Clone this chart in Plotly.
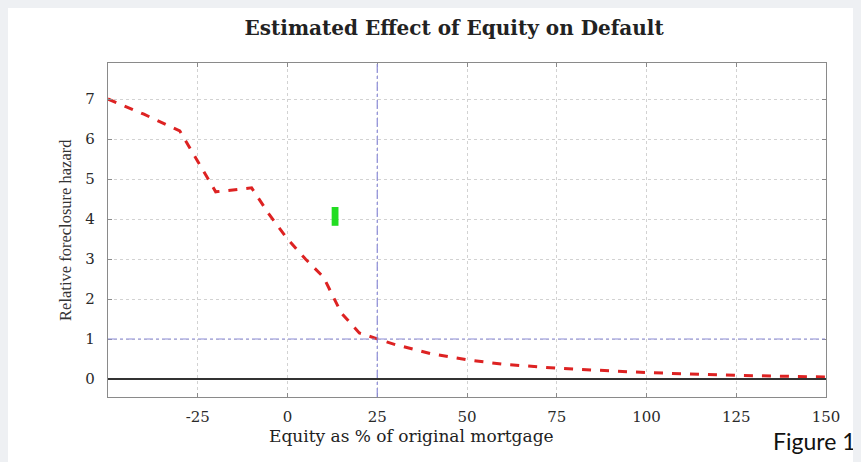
import plotly.graph_objects as go

# ---- data ----
equity_pct = [-50, -40, -30, -20, -10, -5, 0, 5, 10, 15, 20, 25, 30, 40, 50, 60, 75, 100, 125, 150]
relative_hazard = [7.0, 6.62, 6.2, 4.68, 4.78, 4.1, 3.5, 3.0, 2.55, 1.65, 1.15, 1.0, 0.86, 0.63, 0.48, 0.37, 0.27, 0.16, 0.09, 0.05]

x_ticks = [-25, 0, 25, 50, 75, 100, 125, 150]
y_ticks = [0, 1, 2, 3, 4, 5, 6, 7]
x_range = [-50, 150]
y_range = [-0.45, 7.9]

ref_equity = 25      # vertical reference line
ref_hazard = 1       # horizontal reference line
zero_hazard = 0      # baseline
green_mark_x = [12.3, 14.2]
green_mark_y = [3.83, 4.3]

title_text = "Estimated Effect of Equity on Default"
x_title = "Equity as % of original mortgage"
y_title = "Relative foreclosure hazard"
figure_label = "Figure 1"

serif = "DejaVu Serif, Liberation Serif, serif"

fig = go.Figure()
fig.add_trace(go.Scatter(
    x=equity_pct, y=relative_hazard, mode="lines",
    line=dict(color="#dd2222", width=3, dash="dash"),
    showlegend=False, hoverinfo="skip",
))

ref_color = "#8c8cd8"
fig.add_shape(type="line", xref="x", yref="paper", x0=ref_equity, x1=ref_equity, y0=0, y1=1,
              line=dict(color=ref_color, width=1.2, dash="dashdot"), layer="above")
fig.add_shape(type="line", xref="paper", yref="y", x0=0, x1=1, y0=ref_hazard, y1=ref_hazard,
              line=dict(color=ref_color, width=1.2, dash="dashdot"), layer="above")
fig.add_shape(type="line", xref="paper", yref="y", x0=0, x1=1, y0=zero_hazard, y1=zero_hazard,
              line=dict(color="#333333", width=1.8), layer="above")
fig.add_shape(type="rect", xref="x", yref="y",
              x0=green_mark_x[0], x1=green_mark_x[1], y0=green_mark_y[0], y1=green_mark_y[1],
              line=dict(width=0), fillcolor="#22dd22", layer="above")

# axis titles as annotations (placed tight under the tick labels as in the reference)
fig.add_annotation(text=x_title, xref="paper", yref="paper", x=0.423, y=-0.116,
                   xanchor="center", yanchor="middle", showarrow=False,
                   font=dict(family=serif, size=17, color="#222222"))
fig.add_annotation(text=y_title, xref="paper", yref="paper", x=-0.06, y=0.5,
                   xanchor="center", yanchor="middle", showarrow=False, textangle=-90,
                   font=dict(family="Liberation Serif, serif", size=16.5, color="#333333"))
fig.add_annotation(text=figure_label, xref="paper", yref="paper", x=1.0446, y=-0.132,
                   xanchor="right", yanchor="middle", showarrow=False,
                   font=dict(family="Lato, Open Sans, sans-serif", size=23, color="#111111"))

fig.update_layout(
    width=853, height=454,
    margin=dict(l=100, r=35, t=55, b=65),
    paper_bgcolor="white", plot_bgcolor="white",
    title=dict(text="<b>" + title_text + "</b>", x=0.523, xanchor="center",
               y=0.956, yanchor="middle",
               font=dict(family=serif, size=20, color="#222222")),
    xaxis=dict(
        range=x_range, tickvals=x_ticks, ticktext=[str(v) for v in x_ticks],
        showgrid=True, gridcolor="#d2d2d2", griddash="dot", gridwidth=1,
        zeroline=False, showline=True, linecolor="#8a8a8a", linewidth=1.2, mirror="ticks",
        ticks="inside", ticklen=4, tickcolor="#8a8a8a", ticklabelstandoff=6,
        tickfont=dict(family=serif, size=15, color="#2a2a2a"),
    ),
    yaxis=dict(
        range=y_range, tickvals=y_ticks, ticktext=[str(v) for v in y_ticks],
        showgrid=True, gridcolor="#d2d2d2", griddash="dot", gridwidth=1,
        zeroline=False, showline=True, linecolor="#8a8a8a", linewidth=1.2, mirror="ticks",
        ticks="inside", ticklen=4, tickcolor="#8a8a8a", ticklabelstandoff=9,
        tickfont=dict(family=serif, size=15, color="#2a2a2a"),
    ),
)

fig.write_html("out.html", post_script="document.body.style.background='#eef0f3';")
